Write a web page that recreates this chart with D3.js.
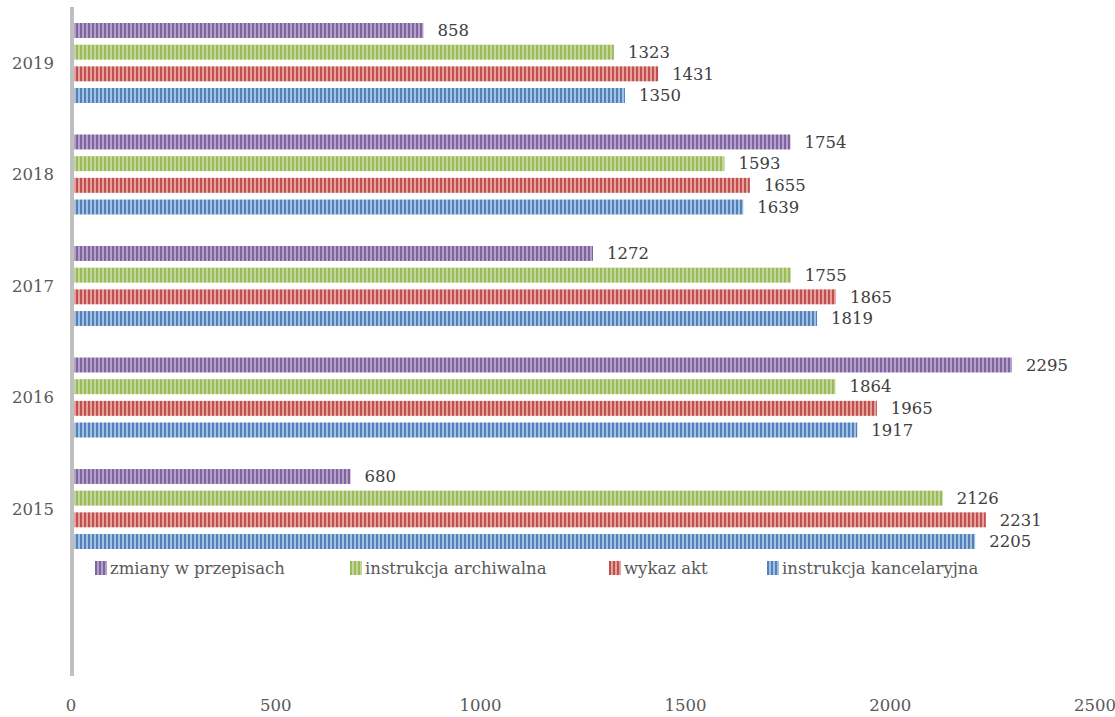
<!DOCTYPE html>
<html>
<head>
<meta charset="utf-8">
<script src="https://cdn.jsdelivr.net/npm/d3@7"></script>
<style>
  body { margin: 0; background: #fff; }
  text { font-family: "DejaVu Serif", "Liberation Serif", serif; }
</style>
</head>
<body>
<div id="chart"></div>
<script>
// Chart data
var years = ["2015", "2016", "2017", "2018", "2019"];
var seriesNames = ["zmiany w przepisach", "instrukcja archiwalna", "wykaz akt", "instrukcja kancelaryjna"];
var zmiany = [680, 2295, 1272, 1754, 858];
var archiwalna = [2126, 1864, 1755, 1593, 1323];
var wykaz = [2231, 1965, 1865, 1655, 1431];
var kancelaryjna = [2205, 1917, 1819, 1639, 1350];
var xTicks = [0, 500, 1000, 1500, 2000, 2500];

var colors = {
  "zmiany w przepisach": ["#8064a2", "#b3a2c7"],
  "instrukcja archiwalna": ["#9bbb59", "#c3d69b"],
  "wykaz akt": ["#c0504d", "#e6a09e"],
  "instrukcja kancelaryjna": ["#4f81bd", "#a6c0e0"]
};
var seriesValues = {
  "zmiany w przepisach": zmiany,
  "instrukcja archiwalna": archiwalna,
  "wykaz akt": wykaz,
  "instrukcja kancelaryjna": kancelaryjna
};

var svgWidth = 1115;
var svgHeight = 717;
var fontSize = "16.5px";

var svg = d3.select("#chart")
  .append("svg")
  .attr("width", svgWidth)
  .attr("height", svgHeight);

// striped patterns like the Excel fill
var defs = svg.append("defs");
seriesNames.forEach(function(name, i) {
  var p = defs.append("pattern")
    .attr("id", "pat" + i)
    .attr("patternUnits", "userSpaceOnUse")
    .attr("width", 4)
    .attr("height", 4);
  p.append("rect").attr("width", 4).attr("height", 4).attr("fill", colors[name][1]);
  p.append("rect").attr("width", 2).attr("height", 4).attr("fill", colors[name][0]);
});

// scales
var xScale = d3.scaleLinear()
  .domain([0, 2500])
  .range([72, 1096]);

// top-to-bottom: 2019 ... 2015, then an empty slot
var yDomain = years.slice().reverse().concat([""]);
var yScale = d3.scaleBand()
  .domain(yDomain)
  .range([7, 676]);

var yInner = d3.scaleBand()
  .domain(seriesNames)
  .range([16, 96])
  .paddingInner(0.31)
  .paddingOuter(0);

// bars
seriesNames.forEach(function(name, si) {
  var rows = years.map(function(y, i) { return { year: y, value: seriesValues[name][i] }; });

  svg.selectAll(".bar" + si)
    .data(rows)
    .enter()
    .append("rect")
    .attr("class", "bar" + si)
    .attr("x", xScale(0) + 2)
    .attr("y", d => yScale(d.year) + yInner(name))
    .attr("width", d => xScale(d.value) - xScale(0) - 2)
    .attr("height", yInner.bandwidth())
    .attr("fill", "url(#pat" + si + ")");

  svg.selectAll(".lab" + si)
    .data(rows)
    .enter()
    .append("text")
    .attr("x", d => xScale(d.value) + 14)
    .attr("y", d => yScale(d.year) + yInner(name) + yInner.bandwidth() / 2)
    .attr("dy", "0.35em")
    .attr("font-size", fontSize)
    .attr("fill", "#404040")
    .text(d => d.value);
});

// vertical axis line
svg.append("line")
  .attr("x1", xScale(0))
  .attr("x2", xScale(0))
  .attr("y1", 7)
  .attr("y2", 676)
  .attr("stroke", "#bfbfbf")
  .attr("stroke-width", 4);

// year labels
svg.selectAll(".yearLabel")
  .data(years)
  .enter()
  .append("text")
  .attr("class", "yearLabel")
  .attr("x", 33)
  .attr("y", d => yScale(d) + yScale.bandwidth() / 2)
  .attr("dy", "0.35em")
  .attr("text-anchor", "middle")
  .attr("font-size", fontSize)
  .attr("fill", "#595959")
  .text(d => d);

// x tick labels
svg.selectAll(".xTick")
  .data(xTicks)
  .enter()
  .append("text")
  .attr("class", "xTick")
  .attr("x", d => xScale(d) - 1)
  .attr("y", 705)
  .attr("dy", "0.35em")
  .attr("text-anchor", "middle")
  .attr("font-size", fontSize)
  .attr("fill", "#595959")
  .text(d => d);

// legend
var legendX = [95, 350, 609, 767];
var legend = svg.selectAll(".legend")
  .data(seriesNames)
  .enter()
  .append("g")
  .attr("class", "legend")
  .attr("transform", (d, i) => `translate(${legendX[i]}, 568)`);

legend.append("rect")
  .attr("x", 0)
  .attr("y", -7)
  .attr("width", 12)
  .attr("height", 14)
  .attr("fill", (d, i) => "url(#pat" + i + ")");

legend.append("text")
  .attr("x", 15)
  .attr("y", 0)
  .attr("dy", "0.35em")
  .attr("font-size", fontSize)
  .attr("fill", "#595959")
  .text(d => d);
</script>
</body>
</html>
